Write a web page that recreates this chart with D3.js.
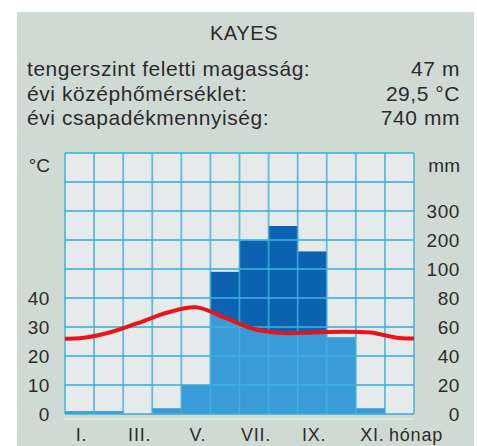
<!DOCTYPE html>
<html>
<head>
<meta charset="utf-8">
<script src="https://cdn.jsdelivr.net/npm/d3@7"></script>
<style>
  html, body { margin: 0; padding: 0; background: #ffffff; }
  svg { display: block; }
  text { font-family: "Liberation Sans", Arial, Helvetica, sans-serif; fill: #2b2b2b; }
</style>
</head>
<body>
<svg id="chart" width="477" height="446"></svg>
<script>
// ---- data ----
const stationName = "KAYES";
const infoLabels = ["tengerszint feletti magasság:", "évi középhőmérséklet:", "évi csapadékmennyiség:"];
const infoValues = ["47 m", "29,5 °C", "740 mm"];
const months = ["I", "II", "III", "IV", "V", "VI", "VII", "VIII", "IX", "X", "XI", "XII"];
const monthLabels = ["I.", "", "III.", "", "V.", "", "VII.", "", "IX.", "", "XI.", ""];
const precipitation = [2, 2, 0, 4, 20, 98, 198, 248, 160, 53, 4, 0];   // mm
const temperature = [26.1, 28.0, 31.3, 34.9, 36.8, 33.2, 29.3, 27.9, 28.1, 28.4, 28.1, 26.2]; // °C
const tempTicks = [0, 10, 20, 30, 40];
const precTicks = [0, 20, 40, 60, 80, 100, 200, 300];
const tempUnit = "°C";
const precUnit = "mm";
const monthUnit = "hónap";

// ---- layout ----
const svg = d3.select("#chart");
const L = 65, R = 414, T = 153, B = 414;

svg.append("rect").attr("x", 17).attr("y", 12).attr("width", 457).attr("height", 440)
  .attr("fill", "#d0dad5");

// header
svg.append("text").attr("x", 244).attr("y", 40).attr("text-anchor", "middle")
  .style("font-size", "20px").style("letter-spacing", "0.6px").text(stationName);
const baselines = [76, 100.5, 125];
infoLabels.forEach((t, i) => {
  svg.append("text").attr("x", 27).attr("y", baselines[i])
    .style("font-size", "21px").style("letter-spacing", "0.55px").text(t);
  svg.append("text").attr("x", 460).attr("y", baselines[i]).attr("text-anchor", "end")
    .style("font-size", "21px").style("letter-spacing", "0.55px").text(infoValues[i]);
});

// scales
const x = d3.scaleBand().domain(months).range([L, R]).padding(0);
const yT = d3.scaleLinear().domain([0, 90]).range([B, T]);
const yP = d3.scaleLinear().domain([0, 100, 500]).range([B, yT(50), T]);

// plot background
svg.append("rect").attr("x", L).attr("y", T).attr("width", R - L).attr("height", B - T)
  .attr("fill", "#e7eaea");

// temperature curve (wrapped for continuity at edges)
const bw = x.bandwidth();
const tPts = [[x(months[0]) - bw / 2, temperature[11]]]
  .concat(months.map((m, i) => [x(m) + bw / 2, temperature[i]]))
  .concat([[x(months[11]) + bw * 1.5, temperature[0]]]);
const tLine = d3.line().x(d => d[0]).y(d => yT(d[1])).curve(d3.curveCatmullRom.alpha(0.5));

const defs = svg.append("defs");
defs.append("clipPath").attr("id", "plotClip").append("rect")
  .attr("x", L).attr("y", T).attr("width", R - L).attr("height", B - T);
const aboveArea = d3.area().x(d => d[0]).y0(T - 5).y1(d => yT(d[1]))
  .curve(d3.curveCatmullRom.alpha(0.5));
defs.append("clipPath").attr("id", "aboveClip").append("path").attr("d", aboveArea(tPts));

// precipitation bars
const gBars = svg.append("g").attr("clip-path", "url(#plotClip)");
gBars.selectAll("rect.light").data(precipitation).join("rect").attr("class", "light")
  .attr("x", (d, i) => x(months[i])).attr("width", bw)
  .attr("y", d => yP(d)).attr("height", d => B - yP(d))
  .attr("fill", "#399cd8");
const gDark = gBars.append("g").attr("clip-path", "url(#aboveClip)");
gDark.selectAll("rect").data(precipitation).join("rect")
  .attr("x", (d, i) => x(months[i])).attr("width", bw)
  .attr("y", d => yP(d)).attr("height", d => B - yP(d))
  .attr("fill", "#0a62b0");

// grid lines
const gGrid = svg.append("g");
d3.range(0, 91, 10).forEach(v => {
  gGrid.append("line").attr("x1", L).attr("x2", R).attr("y1", yT(v)).attr("y2", yT(v))
    .attr("stroke", "#3bb0dc").attr("stroke-opacity", 0.8).attr("stroke-width", 1.8);
});
d3.range(0, 13).forEach(i => {
  const xx = i < 12 ? x(months[i]) : R;
  gGrid.append("line").attr("x1", xx).attr("x2", xx).attr("y1", T).attr("y2", B)
    .attr("stroke", "#3bb0dc").attr("stroke-opacity", 0.8).attr("stroke-width", 1.8);
});
svg.append("line").attr("x1", L).attr("x2", R).attr("y1", B + 5).attr("y2", B + 5)
  .attr("stroke", "#e2e8e5").attr("stroke-width", 1.5);

// temperature line
svg.append("g").attr("clip-path", "url(#plotClip)").append("path")
  .attr("d", tLine(tPts)).attr("fill", "none")
  .attr("stroke", "#e8141c").attr("stroke-width", 4);

// axes labels
const fs = "19px";
tempTicks.forEach(v => {
  svg.append("text").attr("x", 50).attr("y", yT(v)).attr("dy", "0.36em")
    .attr("text-anchor", "end").style("font-size", fs).style("letter-spacing", "0.6px").text(v);
});
precTicks.forEach(v => {
  svg.append("text").attr("x", 460).attr("y", yP(v)).attr("dy", "0.36em")
    .attr("text-anchor", "end").style("font-size", fs).style("letter-spacing", "0.6px").text(v);
});
svg.append("text").attr("x", 50).attr("y", 172).attr("text-anchor", "end")
  .style("font-size", fs).text(tempUnit);
svg.append("text").attr("x", 460).attr("y", 172).attr("text-anchor", "end")
  .style("font-size", fs).text(precUnit);

const fsM = "18px";
monthLabels.forEach((t, i) => {
  if (!t) return;
  svg.append("text").attr("x", x(months[i]) + bw / 2 + 2).attr("y", 441)
    .attr("text-anchor", "middle").style("font-size", fsM).style("letter-spacing", "0.8px").text(t);
});
svg.append("text").attr("x", 389).attr("y", 441).style("font-size", fsM)
  .style("letter-spacing", "0.8px").text(monthUnit);
</script>
</body>
</html>
